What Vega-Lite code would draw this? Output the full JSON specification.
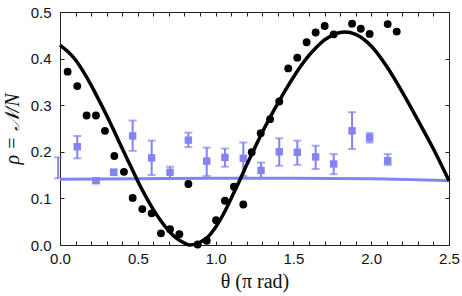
{
  "$schema": "https://vega.github.io/schema/vega-lite/v6.json",
  "autosize": "none",
  "width": 389,
  "height": 233,
  "padding": {"left": 60, "top": 12, "right": 13, "bottom": 51},
  "background": "white",
  "config": {
    "view": {"stroke": null},
    "axis": {
      "domainColor": "#222222",
      "domainWidth": 1,
      "tickColor": "#222222",
      "tickWidth": 1,
      "tickSize": -4,
      "grid": false,
      "labelFont": "Liberation Sans",
      "labelFontSize": 15,
      "labelColor": "#111111",
      "titleFont": "Liberation Serif",
      "titleFontWeight": "normal",
      "titleFontSize": 20,
      "titleColor": "#111111"
    }
  },
  "datasets": {
    "fit": [
      {"theta": 0.0, "rho": 0.429},
      {"theta": 0.05, "rho": 0.415},
      {"theta": 0.1, "rho": 0.397},
      {"theta": 0.15, "rho": 0.372},
      {"theta": 0.2, "rho": 0.343},
      {"theta": 0.25, "rho": 0.311},
      {"theta": 0.3, "rho": 0.278},
      {"theta": 0.35, "rho": 0.243},
      {"theta": 0.4, "rho": 0.207},
      {"theta": 0.45, "rho": 0.172},
      {"theta": 0.5, "rho": 0.137},
      {"theta": 0.55, "rho": 0.105},
      {"theta": 0.6, "rho": 0.076},
      {"theta": 0.65, "rho": 0.051},
      {"theta": 0.7, "rho": 0.03},
      {"theta": 0.75, "rho": 0.014},
      {"theta": 0.8, "rho": 0.004},
      {"theta": 0.835, "rho": 0.0},
      {"theta": 0.9, "rho": 0.006},
      {"theta": 0.95, "rho": 0.017},
      {"theta": 1.0, "rho": 0.038},
      {"theta": 1.05, "rho": 0.066},
      {"theta": 1.1, "rho": 0.1},
      {"theta": 1.15, "rho": 0.135},
      {"theta": 1.2, "rho": 0.172},
      {"theta": 1.25, "rho": 0.207},
      {"theta": 1.3, "rho": 0.242},
      {"theta": 1.35, "rho": 0.274},
      {"theta": 1.4, "rho": 0.304},
      {"theta": 1.45, "rho": 0.333},
      {"theta": 1.5, "rho": 0.36},
      {"theta": 1.55, "rho": 0.385},
      {"theta": 1.6, "rho": 0.407},
      {"theta": 1.65, "rho": 0.425},
      {"theta": 1.7, "rho": 0.44},
      {"theta": 1.75, "rho": 0.45},
      {"theta": 1.8, "rho": 0.456},
      {"theta": 1.83, "rho": 0.457},
      {"theta": 1.9, "rho": 0.452},
      {"theta": 2.0, "rho": 0.427},
      {"theta": 2.1, "rho": 0.383},
      {"theta": 2.2, "rho": 0.328},
      {"theta": 2.3, "rho": 0.268},
      {"theta": 2.4, "rho": 0.206},
      {"theta": 2.5, "rho": 0.138}
    ],
    "flat": [
      {"theta": 0.0, "rho": 0.141},
      {"theta": 0.5, "rho": 0.142},
      {"theta": 1.0, "rho": 0.143},
      {"theta": 1.5, "rho": 0.143},
      {"theta": 2.0, "rho": 0.142},
      {"theta": 2.5, "rho": 0.138}
    ],
    "dots": [
      {"theta": 0.049, "rho": 0.372},
      {"theta": 0.111, "rho": 0.341},
      {"theta": 0.171, "rho": 0.278},
      {"theta": 0.231, "rho": 0.278},
      {"theta": 0.289, "rho": 0.245},
      {"theta": 0.349, "rho": 0.191},
      {"theta": 0.411, "rho": 0.157},
      {"theta": 0.467, "rho": 0.101},
      {"theta": 0.529, "rho": 0.077},
      {"theta": 0.589, "rho": 0.068},
      {"theta": 0.649, "rho": 0.025},
      {"theta": 0.707, "rho": 0.034},
      {"theta": 0.767, "rho": 0.023},
      {"theta": 0.825, "rho": 0.131},
      {"theta": 0.885, "rho": 0.001},
      {"theta": 0.943, "rho": 0.009},
      {"theta": 1.003, "rho": 0.053},
      {"theta": 1.06, "rho": 0.095},
      {"theta": 1.118, "rho": 0.125},
      {"theta": 1.178, "rho": 0.087},
      {"theta": 1.232, "rho": 0.199},
      {"theta": 1.29, "rho": 0.24},
      {"theta": 1.35, "rho": 0.27},
      {"theta": 1.409, "rho": 0.308},
      {"theta": 1.467, "rho": 0.379},
      {"theta": 1.525, "rho": 0.402},
      {"theta": 1.585, "rho": 0.435},
      {"theta": 1.643, "rho": 0.456},
      {"theta": 1.701, "rho": 0.47},
      {"theta": 1.759, "rho": 0.452},
      {"theta": 1.877, "rho": 0.475},
      {"theta": 1.933, "rho": 0.464},
      {"theta": 1.99, "rho": 0.453},
      {"theta": 2.106, "rho": 0.474},
      {"theta": 2.164, "rho": 0.458}
    ],
    "squares": [
      {"theta": -0.012, "rho": 0.145, "lo": 0.143, "hi": 0.188, "marker": false},
      {"theta": 0.111, "rho": 0.211, "lo": 0.186, "hi": 0.234, "marker": true},
      {"theta": 0.231, "rho": 0.138, "lo": 0.134, "hi": 0.142, "marker": true},
      {"theta": 0.345, "rho": 0.156, "lo": 0.15, "hi": 0.162, "marker": true},
      {"theta": 0.467, "rho": 0.234, "lo": 0.202, "hi": 0.267, "marker": true},
      {"theta": 0.589, "rho": 0.187, "lo": 0.15, "hi": 0.224, "marker": true},
      {"theta": 0.707, "rho": 0.156, "lo": 0.143, "hi": 0.168, "marker": true},
      {"theta": 0.825, "rho": 0.225, "lo": 0.21, "hi": 0.241, "marker": true},
      {"theta": 0.943, "rho": 0.18, "lo": 0.148, "hi": 0.209, "marker": true},
      {"theta": 1.06, "rho": 0.188, "lo": 0.168, "hi": 0.207, "marker": true},
      {"theta": 1.178, "rho": 0.186, "lo": 0.148, "hi": 0.22, "marker": true},
      {"theta": 1.292, "rho": 0.16, "lo": 0.144, "hi": 0.177, "marker": true},
      {"theta": 1.409, "rho": 0.2, "lo": 0.17, "hi": 0.229, "marker": true},
      {"theta": 1.525, "rho": 0.199, "lo": 0.172, "hi": 0.224, "marker": true},
      {"theta": 1.643, "rho": 0.189, "lo": 0.163, "hi": 0.213, "marker": true},
      {"theta": 1.759, "rho": 0.174, "lo": 0.152, "hi": 0.195, "marker": true},
      {"theta": 1.877, "rho": 0.245, "lo": 0.206, "hi": 0.285, "marker": true},
      {"theta": 1.99, "rho": 0.23, "lo": 0.22, "hi": 0.24, "marker": true},
      {"theta": 2.106, "rho": 0.181, "lo": 0.172, "hi": 0.195, "marker": true}
    ]
  },
  "resolve": {"axis": {"x": "independent", "y": "independent"}},
  "layer": [
    {
      "data": {"name": "flat"},
      "mark": {"type": "line", "color": "#8383f2", "strokeWidth": 3, "interpolate": "monotone"},
      "encoding": {
        "x": {
          "field": "theta", "type": "quantitative",
          "scale": {"domain": [0, 2.5], "nice": false, "zero": false},
          "axis": {
            "orient": "bottom",
            "values": [0, 0.1, 0.2, 0.3, 0.4, 0.5, 0.6, 0.7, 0.8, 0.9, 1.0, 1.1, 1.2, 1.3, 1.4, 1.5, 1.6, 1.7, 1.8, 1.9, 2.0, 2.1, 2.2, 2.3, 2.4, 2.5],
            "labelExpr": "abs(datum.value * 2 - round(datum.value * 2)) < 0.001 ? format(datum.value, '.1f') : ''",
            "labelOverlap": false,
            "labelFlush": false,
            "labelPadding": 10,
            "title": "θ (π rad)",
            "titlePadding": 5
          }
        },
        "y": {
          "field": "rho", "type": "quantitative",
          "scale": {"domain": [0, 0.5], "nice": false},
          "axis": {
            "orient": "left",
            "values": [0, 0.1, 0.2, 0.3, 0.4, 0.5],
            "format": ".1f",
            "labelOverlap": false,
            "labelFlush": false,
            "labelPadding": 13,
            "title": "ρ = 𝒩/N",
            "titleFontStyle": "italic",
            "titlePadding": 8
          }
        }
      }
    },
    {
      "data": {"name": "squares"},
      "mark": {"type": "rule", "color": "#8383f2", "strokeWidth": 2},
      "encoding": {
        "x": {"field": "theta", "type": "quantitative", "axis": {
          "orient": "top",
          "values": [0, 0.1, 0.2, 0.3, 0.4, 0.5, 0.6, 0.7, 0.8, 0.9, 1.0, 1.1, 1.2, 1.3, 1.4, 1.5, 1.6, 1.7, 1.8, 1.9, 2.0, 2.1, 2.2, 2.3, 2.4, 2.5],
          "labels": false, "title": null
        }},
        "y": {"field": "lo", "type": "quantitative", "axis": {
          "orient": "right",
          "values": [0, 0.1, 0.2, 0.3, 0.4, 0.5],
          "labels": false, "title": null
        }},
        "y2": {"field": "hi"}
      }
    },
    {
      "data": {"name": "squares"},
      "mark": {"type": "tick", "orient": "horizontal", "color": "#8383f2", "size": 8, "thickness": 2},
      "encoding": {
        "x": {"field": "theta", "type": "quantitative", "axis": null},
        "y": {"field": "lo", "type": "quantitative", "axis": null}
      }
    },
    {
      "data": {"name": "squares"},
      "mark": {"type": "tick", "orient": "horizontal", "color": "#8383f2", "size": 8, "thickness": 2},
      "encoding": {
        "x": {"field": "theta", "type": "quantitative", "axis": null},
        "y": {"field": "hi", "type": "quantitative", "axis": null}
      }
    },
    {
      "data": {"name": "squares"},
      "transform": [{"filter": "datum.marker"}],
      "mark": {"type": "square", "color": "#8383f2", "size": 55, "opacity": 1},
      "encoding": {
        "x": {"field": "theta", "type": "quantitative", "axis": null},
        "y": {"field": "rho", "type": "quantitative", "axis": null}
      }
    },
    {
      "data": {"name": "fit"},
      "mark": {"type": "line", "color": "#000000", "strokeWidth": 3.5, "interpolate": "monotone"},
      "encoding": {
        "x": {"field": "theta", "type": "quantitative", "axis": null},
        "y": {"field": "rho", "type": "quantitative", "axis": null}
      }
    },
    {
      "data": {"name": "dots"},
      "mark": {"type": "circle", "color": "#000000", "size": 62, "opacity": 1},
      "encoding": {
        "x": {"field": "theta", "type": "quantitative", "axis": null},
        "y": {"field": "rho", "type": "quantitative", "axis": null}
      }
    }
  ]
}
